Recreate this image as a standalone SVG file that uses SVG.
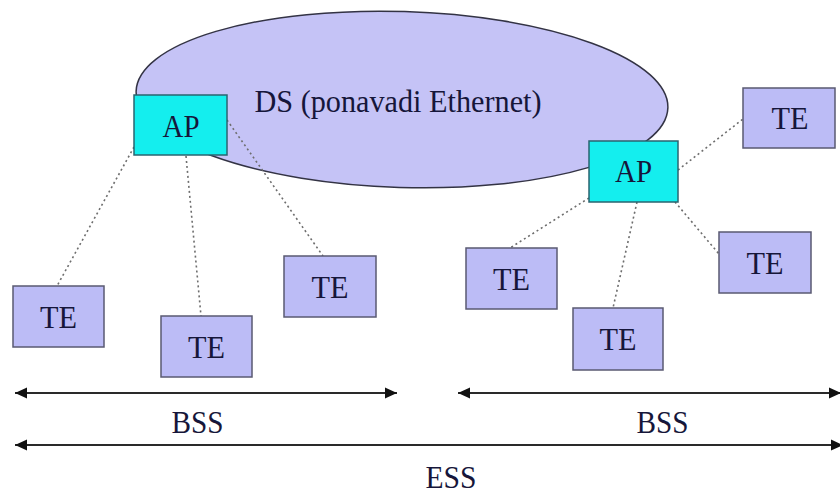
<svg xmlns="http://www.w3.org/2000/svg" width="840" height="494" viewBox="0 0 840 494">
<defs>
<style>
.te{fill:#bcbcf6;stroke:#5a5a72;stroke-width:1.5}
.ap{fill:#14eeee;stroke:#2a6470;stroke-width:1.5}
.t{font-family:"Liberation Serif","Times New Roman",serif;font-size:32px;fill:#16163a;text-anchor:middle}
.dot{stroke:#6e6e6e;stroke-width:1.6;stroke-dasharray:2 3;fill:none}
.arr{stroke:#2a2a2a;stroke-width:2;fill:none;marker-start:url(#ah);marker-end:url(#ah)}
</style>
<marker id="ah" markerUnits="userSpaceOnUse" markerWidth="13" markerHeight="12" refX="12" refY="6" orient="auto-start-reverse">
<path d="M0,0.5 L12,6 L0,11.5 z" fill="#111"/>
</marker>
</defs>
<rect width="840" height="494" fill="#ffffff"/>
<g id="ds">
<ellipse cx="402" cy="99.5" rx="266" ry="88" transform="rotate(1.8 402 99.5)" fill="#c5c3f6" stroke="#333344" stroke-width="1.5"/>
<text class="t" x="398" y="112" textLength="287" lengthAdjust="spacingAndGlyphs">DS (ponavadi Ethernet)</text>
</g>
<g id="connectors">
<line class="dot" x1="134" y1="147" x2="57" y2="286"/>
<line class="dot" x1="186" y1="156" x2="201" y2="316"/>
<line class="dot" x1="227" y1="120" x2="323" y2="256"/>
<line class="dot" x1="589" y1="198" x2="510" y2="248"/>
<line class="dot" x1="637" y1="202" x2="613" y2="308"/>
<line class="dot" x1="675" y1="202" x2="719" y2="254"/>
<line class="dot" x1="678" y1="170" x2="743" y2="119"/>
</g>
<g id="ap1"><rect class="ap" x="134" y="95" width="93" height="60"/><text class="t" x="181" y="137" textLength="37" lengthAdjust="spacingAndGlyphs">AP</text></g>
<g id="ap2"><rect class="ap" x="589" y="141" width="89" height="61"/><text class="t" x="633.5" y="182" textLength="37" lengthAdjust="spacingAndGlyphs">AP</text></g>
<g id="te1"><rect class="te" x="13" y="286" width="91" height="61"/><text class="t" x="58.5" y="328" textLength="37" lengthAdjust="spacingAndGlyphs">TE</text></g>
<g id="te2"><rect class="te" x="161" y="316" width="91" height="61"/><text class="t" x="206.5" y="358" textLength="37" lengthAdjust="spacingAndGlyphs">TE</text></g>
<g id="te3"><rect class="te" x="284" y="256" width="92" height="61"/><text class="t" x="330" y="298" textLength="37" lengthAdjust="spacingAndGlyphs">TE</text></g>
<g id="te4"><rect class="te" x="466" y="248" width="91" height="61"/><text class="t" x="511.5" y="290" textLength="37" lengthAdjust="spacingAndGlyphs">TE</text></g>
<g id="te5"><rect class="te" x="573" y="308" width="90" height="62"/><text class="t" x="618" y="350" textLength="37" lengthAdjust="spacingAndGlyphs">TE</text></g>
<g id="te6"><rect class="te" x="719" y="232" width="92" height="61"/><text class="t" x="765" y="274" textLength="37" lengthAdjust="spacingAndGlyphs">TE</text></g>
<g id="te7"><rect class="te" x="743" y="88" width="92" height="60"/><text class="t" x="790" y="129" textLength="37" lengthAdjust="spacingAndGlyphs">TE</text></g>
<g id="spans">
<line class="arr" x1="15" y1="393" x2="397" y2="393"/>
<line class="arr" x1="458" y1="393" x2="841" y2="393"/>
<line class="arr" x1="15" y1="445" x2="843" y2="445"/>
<text class="t" x="197.5" y="433" textLength="52" lengthAdjust="spacingAndGlyphs">BSS</text>
<text class="t" x="662.5" y="433" textLength="52" lengthAdjust="spacingAndGlyphs">BSS</text>
<text class="t" x="451" y="488" font-size="30" textLength="51" lengthAdjust="spacingAndGlyphs">ESS</text>
</g>
</svg>
